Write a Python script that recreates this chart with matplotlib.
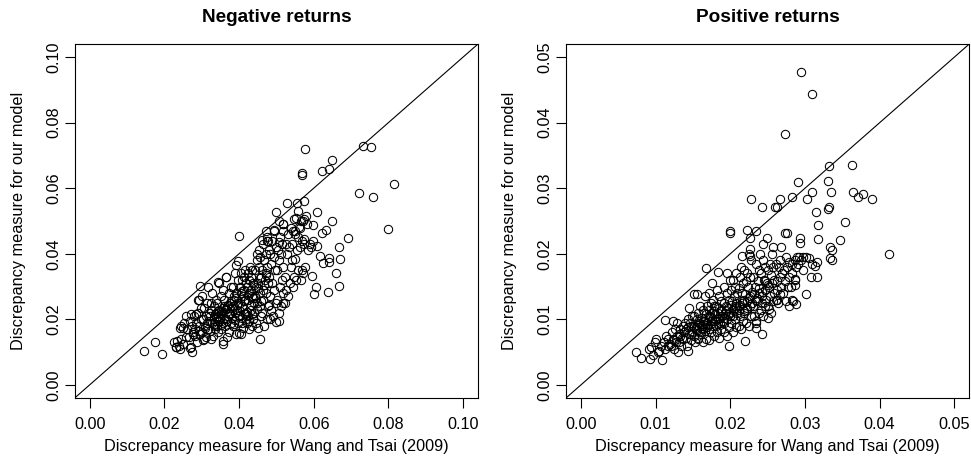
import matplotlib
matplotlib.use("Agg")
import matplotlib.pyplot as plt

plt.rcParams['font.family'] = ['Liberation Sans', 'DejaVu Sans']

# Discrepancy measures, negative returns: Wang and Tsai (2009) vs. our model
neg_wt = [
    0.0145, 0.0175, 0.0195, 0.0576, 0.0568, 0.0570, 0.0622, 0.0642, 0.0649, 0.0733,
    0.0753, 0.0720, 0.0759, 0.0815, 0.0798, 0.0691, 0.0667, 0.0670, 0.0660, 0.0667,
    0.0639, 0.0601, 0.0606, 0.0595, 0.0618, 0.0624, 0.0641, 0.0641, 0.0400, 0.0456,
    0.0356, 0.0273, 0.0649, 0.0632, 0.0621, 0.0609, 0.0598, 0.0529, 0.0554, 0.0573,
    0.0559, 0.0499, 0.0508, 0.0519, 0.0472, 0.0474, 0.0494, 0.0518, 0.0548, 0.0566,
    0.0574, 0.0579, 0.0545, 0.0551, 0.0560, 0.0508, 0.0462, 0.0478, 0.0575, 0.0608,
    0.0398, 0.0295, 0.0231, 0.0270, 0.0304, 0.0399, 0.0500, 0.0518, 0.0550, 0.0344,
    0.0293, 0.0366, 0.0259,
    0.0232, 0.0238, 0.0226, 0.0235, 0.0241,
    0.0243, 0.0251, 0.0246, 0.0257, 0.0249, 0.0254, 0.0244,
    0.0272, 0.0265, 0.0278, 0.0262, 0.0274, 0.0268, 0.0279, 0.0271, 0.0276,
    0.0288, 0.0283, 0.0295, 0.0281, 0.0292, 0.0286, 0.0298, 0.0284, 0.0291, 0.0297, 0.0289, 0.0294,
    0.0305, 0.0312, 0.0301, 0.0318, 0.0308, 0.0315, 0.0303, 0.0311, 0.0319, 0.0306, 0.0314, 0.0302, 0.0316, 0.0309,
    0.0325, 0.0331, 0.0322, 0.0337, 0.0328, 0.0334, 0.0321, 0.0339, 0.0326, 0.0333, 0.0324, 0.0338, 0.0329, 0.0336, 0.0323,
    0.0358, 0.0345, 0.0352, 0.0341, 0.0356, 0.0348, 0.0343, 0.0354, 0.0347, 0.0359, 0.0342, 0.0351, 0.0357, 0.0346, 0.0353, 0.0349,
    0.0368, 0.0374, 0.0362, 0.0379, 0.0365, 0.0371, 0.0377, 0.0363, 0.0369, 0.0375, 0.0361, 0.0372, 0.0378, 0.0366, 0.0373,
    0.0392, 0.0385, 0.0397, 0.0381, 0.0389, 0.0394, 0.0383, 0.0398, 0.0387, 0.0391, 0.0384, 0.0396, 0.0388, 0.0393, 0.0386,
    0.0404, 0.0412, 0.0407, 0.0418, 0.0401, 0.0415, 0.0409, 0.0403, 0.0417, 0.0411, 0.0406, 0.0414, 0.0402, 0.0419, 0.0408, 0.0413, 0.0405, 0.0416,
    0.0428, 0.0434, 0.0421, 0.0437, 0.0425, 0.0431, 0.0439, 0.0423, 0.0436, 0.0427, 0.0433, 0.0422, 0.0438, 0.0426, 0.0432, 0.0424, 0.0435, 0.0429,
    0.0452, 0.0445, 0.0458, 0.0441, 0.0455, 0.0448, 0.0443, 0.0457, 0.0446, 0.0451, 0.0459, 0.0444, 0.0454, 0.0449, 0.0456, 0.0447, 0.0453,
    0.0468, 0.0475, 0.0462, 0.0478, 0.0465, 0.0471, 0.0464, 0.0477, 0.0469, 0.0473, 0.0461, 0.0476, 0.0466, 0.0472, 0.0479, 0.0463, 0.0474,
    0.0484, 0.0492, 0.0487, 0.0498, 0.0482, 0.0495, 0.0489, 0.0481, 0.0496, 0.0486, 0.0493, 0.0483, 0.0499, 0.0488, 0.0494,
    0.0506, 0.0512, 0.0503, 0.0517, 0.0509, 0.0514, 0.0501, 0.0519, 0.0507, 0.0513, 0.0504, 0.0516, 0.0511, 0.0518, 0.0508,
    0.0524, 0.0531, 0.0527, 0.0536, 0.0522, 0.0538, 0.0529, 0.0534, 0.0525, 0.0532, 0.0539,
    0.0545, 0.0552, 0.0548, 0.0557, 0.0543, 0.0555, 0.0541, 0.0558, 0.0549, 0.0553,
    0.0565, 0.0572, 0.0568, 0.0577, 0.0562, 0.0575, 0.0569, 0.0563, 0.0571,
    0.0585, 0.0592, 0.0589, 0.0597, 0.0583,
    0.0332, 0.0347, 0.0361, 0.0376, 0.0389, 0.0402, 0.0417, 0.0431, 0.0446, 0.0459,
    0.0338, 0.0353, 0.0367, 0.0382, 0.0395, 0.0409, 0.0423, 0.0438, 0.0451, 0.0466,
    0.0343, 0.0358, 0.0371, 0.0386, 0.0399, 0.0413, 0.0428, 0.0441, 0.0456, 0.0471,
    0.0336, 0.0351, 0.0364, 0.0379, 0.0393, 0.0407, 0.0421, 0.0436, 0.0449, 0.0481,
]
neg_model = [
    0.0103, 0.0130, 0.0095, 0.0721, 0.0647, 0.0641, 0.0654, 0.0660, 0.0686, 0.0729,
    0.0727, 0.0585, 0.0574, 0.0612, 0.0476, 0.0447, 0.0421, 0.0385, 0.0341, 0.0302,
    0.0282, 0.0278, 0.0300, 0.0333, 0.0393, 0.0371, 0.0388, 0.0376, 0.0453, 0.0141,
    0.0125, 0.0101, 0.0501, 0.0474, 0.0462, 0.0526, 0.0488, 0.0555, 0.0555, 0.0562,
    0.0532, 0.0526, 0.0500, 0.0491, 0.0470, 0.0451, 0.0474, 0.0468, 0.0505, 0.0501,
    0.0506, 0.0516, 0.0469, 0.0459, 0.0482, 0.0435, 0.0441, 0.0439, 0.0444, 0.0423,
    0.0379, 0.0302, 0.0117, 0.0114, 0.0137, 0.0157, 0.0193, 0.0251, 0.0383, 0.0313,
    0.0260, 0.0328, 0.0211,
    0.0115, 0.0120, 0.0130, 0.0135, 0.0175,
    0.0110, 0.0125, 0.0140, 0.0145, 0.0175, 0.0190, 0.0180,
    0.0115, 0.0145, 0.0160, 0.0170, 0.0180, 0.0195, 0.0210, 0.0215, 0.0155,
    0.0130, 0.0150, 0.0155, 0.0170, 0.0180, 0.0190, 0.0200, 0.0215, 0.0220, 0.0235, 0.0260, 0.0165,
    0.0140, 0.0145, 0.0160, 0.0170, 0.0180, 0.0190, 0.0200, 0.0210, 0.0220, 0.0235, 0.0250, 0.0270, 0.0300, 0.0175,
    0.0140, 0.0150, 0.0165, 0.0180, 0.0190, 0.0200, 0.0210, 0.0220, 0.0230, 0.0240, 0.0250, 0.0260, 0.0280, 0.0215, 0.0195,
    0.0135, 0.0160, 0.0170, 0.0180, 0.0190, 0.0200, 0.0210, 0.0220, 0.0230, 0.0240, 0.0250, 0.0270, 0.0290, 0.0310, 0.0225, 0.0205,
    0.0145, 0.0160, 0.0180, 0.0190, 0.0200, 0.0210, 0.0220, 0.0230, 0.0240, 0.0250, 0.0260, 0.0280, 0.0300, 0.0330, 0.0215,
    0.0155, 0.0180, 0.0190, 0.0205, 0.0220, 0.0230, 0.0240, 0.0250, 0.0270, 0.0280, 0.0300, 0.0320, 0.0340, 0.0365, 0.0260,
    0.0155, 0.0175, 0.0190, 0.0200, 0.0210, 0.0220, 0.0240, 0.0250, 0.0260, 0.0270, 0.0280, 0.0290, 0.0300, 0.0310, 0.0320, 0.0330, 0.0340, 0.0350,
    0.0170, 0.0180, 0.0190, 0.0200, 0.0210, 0.0230, 0.0250, 0.0260, 0.0270, 0.0280, 0.0290, 0.0300, 0.0310, 0.0320, 0.0330, 0.0340, 0.0350, 0.0360,
    0.0175, 0.0190, 0.0210, 0.0220, 0.0240, 0.0250, 0.0270, 0.0280, 0.0300, 0.0310, 0.0330, 0.0350, 0.0360, 0.0380, 0.0390, 0.0400, 0.0410,
    0.0180, 0.0200, 0.0220, 0.0240, 0.0260, 0.0280, 0.0290, 0.0310, 0.0320, 0.0340, 0.0350, 0.0360, 0.0380, 0.0400, 0.0410, 0.0430, 0.0440,
    0.0200, 0.0210, 0.0230, 0.0250, 0.0270, 0.0290, 0.0310, 0.0330, 0.0350, 0.0370, 0.0390, 0.0400, 0.0420, 0.0440, 0.0470,
    0.0220, 0.0240, 0.0260, 0.0280, 0.0300, 0.0320, 0.0350, 0.0360, 0.0380, 0.0400, 0.0410, 0.0430, 0.0450, 0.0490, 0.0195,
    0.0250, 0.0270, 0.0290, 0.0310, 0.0330, 0.0360, 0.0400, 0.0420, 0.0430, 0.0460, 0.0480,
    0.0300, 0.0320, 0.0330, 0.0350, 0.0380, 0.0410, 0.0430, 0.0450, 0.0470, 0.0510,
    0.0320, 0.0340, 0.0350, 0.0360, 0.0420, 0.0430, 0.0440, 0.0480, 0.0500,
    0.0410, 0.0420, 0.0430, 0.0440, 0.0490,
    0.0185, 0.0195, 0.0205, 0.0215, 0.0198, 0.0225, 0.0215, 0.0245, 0.0265, 0.0255,
    0.0205, 0.0215, 0.0195, 0.0235, 0.0245, 0.0205, 0.0275, 0.0265, 0.0295, 0.0305,
    0.0225, 0.0235, 0.0245, 0.0185, 0.0212, 0.0255, 0.0195, 0.0305, 0.0325, 0.0335,
    0.0172, 0.0182, 0.0232, 0.0255, 0.0265, 0.0285, 0.0222, 0.0215, 0.0232, 0.0245,
]

# Discrepancy measures, positive returns
pos_wt = [
    0.0295, 0.0310, 0.0273, 0.0332, 0.0363, 0.0291, 0.0331, 0.0309, 0.0335, 0.0364,
    0.0371, 0.0378, 0.0390, 0.0303, 0.0282, 0.0266, 0.0260, 0.0263, 0.0242, 0.0228,
    0.0315, 0.0331, 0.0332, 0.0353, 0.0317, 0.0347, 0.0318, 0.0333, 0.0336, 0.0333,
    0.0336, 0.0413, 0.0302, 0.0316, 0.0308, 0.0313, 0.0316, 0.0309, 0.0298, 0.0302,
    0.0306, 0.0199, 0.0200, 0.0223, 0.0235, 0.0226, 0.0168, 0.0293, 0.0293, 0.0273,
    0.0276, 0.0268, 0.0249, 0.0244, 0.0257, 0.0240, 0.0216, 0.0198, 0.0220, 0.0242,
    0.0081, 0.0074, 0.0092, 0.0108, 0.0130, 0.0144, 0.0101, 0.0113, 0.0123, 0.0151,
    0.0156, 0.0145, 0.0278, 0.0288, 0.0250, 0.0252, 0.0234, 0.0234, 0.0282, 0.0262,
    0.0287, 0.0287, 0.0227, 0.0226,
    0.0096, 0.0103, 0.0091, 0.0107, 0.0099, 0.0105, 0.0094,
    0.0113, 0.0117, 0.0111, 0.0116, 0.0114, 0.0119,
    0.0124, 0.0121, 0.0127, 0.0123, 0.0128, 0.0122, 0.0126, 0.0129, 0.0125,
    0.0134, 0.0131, 0.0137, 0.0133, 0.0138, 0.0132, 0.0136, 0.0139, 0.0135, 0.0131,
    0.0142, 0.0147, 0.0141, 0.0145, 0.0149, 0.0143, 0.0148, 0.0146, 0.0144, 0.0149, 0.0141,
    0.0153, 0.0157, 0.0151, 0.0159, 0.0154, 0.0152, 0.0158, 0.0155, 0.0151, 0.0157, 0.0159, 0.0156,
    0.0163, 0.0168, 0.0161, 0.0166, 0.0169, 0.0162, 0.0167, 0.0164, 0.0161, 0.0168, 0.0165, 0.0163, 0.0169, 0.0166, 0.0164,
    0.0172, 0.0178, 0.0174, 0.0171, 0.0177, 0.0175, 0.0179, 0.0173, 0.0176, 0.0171, 0.0178, 0.0174, 0.0177, 0.0172, 0.0175, 0.0179,
    0.0185, 0.0182, 0.0188, 0.0181, 0.0186, 0.0184, 0.0189, 0.0183, 0.0187, 0.0181, 0.0188, 0.0185, 0.0182, 0.0183, 0.0186,
    0.0196, 0.0192, 0.0198, 0.0191, 0.0195, 0.0199, 0.0193, 0.0197, 0.0194, 0.0192, 0.0198, 0.0196, 0.0191, 0.0199, 0.0195,
    0.0203, 0.0208, 0.0201, 0.0206, 0.0209, 0.0204, 0.0207, 0.0202, 0.0205, 0.0209, 0.0201, 0.0206, 0.0204, 0.0208,
    0.0214, 0.0211, 0.0217, 0.0213, 0.0218, 0.0212, 0.0216, 0.0219, 0.0215, 0.0211, 0.0217, 0.0213, 0.0218, 0.0214,
    0.0225, 0.0221, 0.0228, 0.0223, 0.0227, 0.0222, 0.0226, 0.0229, 0.0224, 0.0221, 0.0227, 0.0223, 0.0228, 0.0225,
    0.0235, 0.0232, 0.0238, 0.0231, 0.0236, 0.0234, 0.0239, 0.0233, 0.0237, 0.0231, 0.0238, 0.0235,
    0.0244, 0.0241, 0.0247, 0.0243, 0.0248, 0.0242, 0.0246, 0.0249, 0.0245, 0.0241, 0.0247, 0.0244,
    0.0254, 0.0251, 0.0257, 0.0253, 0.0258, 0.0252, 0.0256, 0.0259, 0.0255, 0.0251, 0.0257, 0.0253, 0.0256,
    0.0264, 0.0261, 0.0267, 0.0263, 0.0268, 0.0262, 0.0266, 0.0269, 0.0265, 0.0261, 0.0267,
    0.0274, 0.0271, 0.0277, 0.0273, 0.0278, 0.0272, 0.0276, 0.0279, 0.0275,
    0.0284, 0.0281, 0.0287, 0.0283, 0.0288, 0.0282, 0.0286, 0.0289,
    0.0292, 0.0295, 0.0291, 0.0297,
    0.0148, 0.0155, 0.0162, 0.0169, 0.0176, 0.0183, 0.0190, 0.0197, 0.0204, 0.0211,
    0.0152, 0.0159, 0.0166, 0.0173, 0.0180, 0.0187, 0.0194, 0.0201, 0.0208, 0.0215,
    0.0218, 0.0222, 0.0229, 0.0236, 0.0243, 0.0250, 0.0246, 0.0239, 0.0232, 0.0225,
    0.0157, 0.0164, 0.0171, 0.0178, 0.0185, 0.0192, 0.0199, 0.0206, 0.0213, 0.0220,
]
pos_model = [
    0.0478, 0.0443, 0.0382, 0.0334, 0.0336, 0.0309, 0.0311, 0.0295, 0.0295, 0.0294,
    0.0287, 0.0291, 0.0284, 0.0284, 0.0286, 0.0284, 0.0271, 0.0271, 0.0272, 0.0283,
    0.0264, 0.0269, 0.0272, 0.0249, 0.0244, 0.0221, 0.0223, 0.0211, 0.0206, 0.0193,
    0.0191, 0.0199, 0.0138, 0.0164, 0.0164, 0.0182, 0.0188, 0.0185, 0.0195, 0.0195,
    0.0194, 0.0234, 0.0231, 0.0236, 0.0235, 0.0224, 0.0178, 0.0224, 0.0217, 0.0232,
    0.0231, 0.0210, 0.0224, 0.0215, 0.0210, 0.0200, 0.0197, 0.0059, 0.0067, 0.0078,
    0.0041, 0.0050, 0.0039, 0.0038, 0.0050, 0.0052, 0.0070, 0.0099, 0.0098, 0.0138,
    0.0138, 0.0118, 0.0120, 0.0124, 0.0102, 0.0116, 0.0087, 0.0098, 0.0129, 0.0129,
    0.0161, 0.0152, 0.0208, 0.0196,
    0.0045, 0.0050, 0.0055, 0.0060, 0.0065, 0.0052, 0.0058,
    0.0055, 0.0060, 0.0065, 0.0070, 0.0075, 0.0062,
    0.0055, 0.0060, 0.0065, 0.0070, 0.0075, 0.0080, 0.0085, 0.0095, 0.0068,
    0.0060, 0.0065, 0.0070, 0.0075, 0.0080, 0.0085, 0.0090, 0.0095, 0.0072, 0.0078,
    0.0060, 0.0068, 0.0072, 0.0078, 0.0082, 0.0088, 0.0090, 0.0095, 0.0100, 0.0105, 0.0085,
    0.0065, 0.0070, 0.0075, 0.0080, 0.0085, 0.0090, 0.0095, 0.0100, 0.0105, 0.0110, 0.0120, 0.0092,
    0.0065, 0.0070, 0.0078, 0.0082, 0.0088, 0.0090, 0.0095, 0.0098, 0.0102, 0.0108, 0.0110, 0.0115, 0.0120, 0.0135, 0.0093,
    0.0068, 0.0075, 0.0080, 0.0085, 0.0090, 0.0095, 0.0100, 0.0105, 0.0110, 0.0115, 0.0120, 0.0125, 0.0130, 0.0140, 0.0155, 0.0098,
    0.0072, 0.0080, 0.0085, 0.0090, 0.0095, 0.0100, 0.0105, 0.0110, 0.0115, 0.0120, 0.0128, 0.0135, 0.0145, 0.0172, 0.0102,
    0.0075, 0.0080, 0.0088, 0.0095, 0.0100, 0.0105, 0.0110, 0.0118, 0.0120, 0.0125, 0.0130, 0.0140, 0.0150, 0.0160, 0.0170,
    0.0080, 0.0088, 0.0095, 0.0100, 0.0110, 0.0115, 0.0120, 0.0128, 0.0135, 0.0140, 0.0145, 0.0150, 0.0160, 0.0170,
    0.0085, 0.0090, 0.0098, 0.0105, 0.0110, 0.0120, 0.0125, 0.0130, 0.0140, 0.0148, 0.0155, 0.0165, 0.0175, 0.0180,
    0.0090, 0.0095, 0.0105, 0.0115, 0.0120, 0.0128, 0.0135, 0.0142, 0.0150, 0.0158, 0.0165, 0.0170, 0.0190, 0.0200,
    0.0095, 0.0105, 0.0110, 0.0120, 0.0128, 0.0130, 0.0140, 0.0150, 0.0158, 0.0165, 0.0175, 0.0185,
    0.0105, 0.0115, 0.0120, 0.0125, 0.0130, 0.0135, 0.0145, 0.0155, 0.0160, 0.0170, 0.0180, 0.0190,
    0.0110, 0.0120, 0.0128, 0.0135, 0.0140, 0.0150, 0.0155, 0.0160, 0.0168, 0.0175, 0.0180, 0.0185, 0.0200,
    0.0125, 0.0130, 0.0138, 0.0145, 0.0150, 0.0158, 0.0165, 0.0170, 0.0180, 0.0185, 0.0190,
    0.0128, 0.0140, 0.0150, 0.0158, 0.0165, 0.0175, 0.0180, 0.0188, 0.0195,
    0.0128, 0.0150, 0.0160, 0.0170, 0.0180, 0.0185, 0.0190, 0.0195,
    0.0195, 0.0190, 0.0185, 0.0175,
    0.0078, 0.0083, 0.0087, 0.0092, 0.0097, 0.0093, 0.0098, 0.0108, 0.0105, 0.0115,
    0.0088, 0.0093, 0.0098, 0.0103, 0.0108, 0.0112, 0.0115, 0.0122, 0.0125, 0.0128,
    0.0112, 0.0118, 0.0125, 0.0132, 0.0142, 0.0152, 0.0158, 0.0148, 0.0138, 0.0132,
    0.0072, 0.0085, 0.0105, 0.0112, 0.0118, 0.0102, 0.0110, 0.0118, 0.0122, 0.0138,
]

neg_ticks = [0.00, 0.02, 0.04, 0.06, 0.08, 0.10]
pos_ticks = [0.00, 0.01, 0.02, 0.03, 0.04, 0.05]

panels = [
    ("Negative returns", neg_wt, neg_model, neg_ticks),
    ("Positive returns", pos_wt, pos_model, pos_ticks),
]

W, H = 971, 468
fig = plt.figure(figsize=(W / 100, H / 100), dpi=100)
lefts = [74.7, 566.0]
ax_w, ax_top, ax_bot = 403.3, 44.0, 398.0
fs = 11.7

for (title, xs, ys, ticks), left in zip(panels, lefts):
    ax = fig.add_axes([left / W, 1 - ax_bot / H, ax_w / W, (ax_bot - ax_top) / H])
    hi = ticks[-1]
    pad = 0.04 * hi
    ax.set_xlim(-pad, hi + pad)
    ax.set_ylim(-pad, hi + pad)
    ax.axline((0, 0), slope=1, color="black", lw=0.8)
    ax.plot(xs, ys, linestyle="none", marker="o", markerfacecolor="none",
            markeredgecolor="black", markersize=6.0, markeredgewidth=0.75)
    ax.set_xticks(ticks)
    ax.set_yticks(ticks)
    ax.set_xticklabels([f"{t:.2f}" for t in ticks])
    ax.set_yticklabels([f"{t:.2f}" for t in ticks], rotation=90, va="center")
    ax.tick_params(direction="out", length=7, width=0.8, labelsize=fs,
                   colors="black")
    ax.tick_params(axis="x", pad=6.5)
    ax.tick_params(axis="y", pad=2.5)
    for s in ax.spines.values():
        s.set_linewidth(0.8)
    ax.set_xlabel("Discrepancy measure for Wang and Tsai (2009)", fontsize=fs)
    ax.xaxis.label.set_va("center")
    ax.xaxis.set_label_coords(0.5, (ax_bot - 447) / (ax_bot - ax_top))
    ax.set_ylabel("Discrepancy measure for our model", fontsize=fs)
    ax.yaxis.label.set_va("center")
    ax.yaxis.set_label_coords(-0.14, 0.5)
    fig.text((left + ax_w / 2) / W, 1 - 17 / H, title, ha="center", va="center",
             fontsize=13.7, fontweight="bold")

fig.savefig("out.png", dpi=100)
